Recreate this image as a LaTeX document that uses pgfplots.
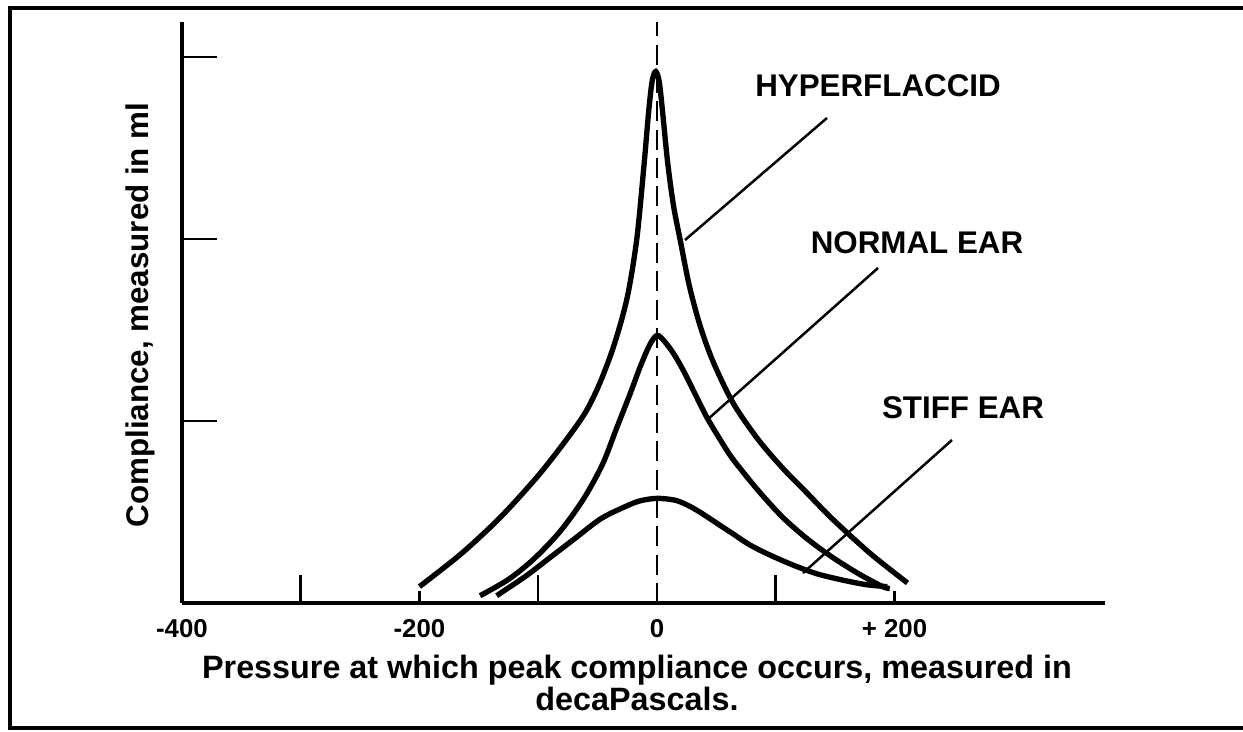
\documentclass[border=0pt]{standalone}
\usepackage{pgfplots}
\pgfplotsset{compat=1.18}
\usepackage{fontspec}
\setmainfont{Liberation Sans}
\begin{document}
\begin{tikzpicture}
\begin{scope}[x=0.6pt,y=0.6pt]
\path[use as bounding box] (0,0) rectangle (1243,731);
\draw[line width=2.4pt] (1243,723) -- (10,723) -- (10,3) -- (1243,3);
\end{scope}
\begin{axis}[
 at={(109.2pt,76.8pt)}, anchor=south west, scale only axis,
 width=553.8pt, height=348.6pt,
 xmin=-400, xmax=377.3, ymin=0, ymax=3.192,
 axis x line=bottom, axis y line=left,
 axis line style={-, line width=2.4pt},
 clip=false,
 tick align=inside,
 xtick={-400,-200,0,200}, xticklabels={-400,-200,0,+ 200},
 major tick length=7pt,
 extra x ticks={-300,-100,100}, extra x tick labels={},
 extra x tick style={major tick length=17pt},
 ytick=\empty,
 extra y ticks={1,2,3}, extra y tick labels={},
 extra y tick style={major tick length=21pt},
 every tick/.style={black, line width=1.5pt},
 xticklabel style={font=\bfseries\fontsize{15.5}{17}\selectfont, yshift=-6.5pt},
]
% Hyperflaccid
\addplot[line width=3.2pt, smooth, tension=0.5] coordinates {
(-200,0.09) (-165,0.27) (-132,0.47) (-100,0.70) (-76,0.90) (-60,1.05) (-48,1.21) (-36,1.42) (-25,1.68) (-17,2.0) (-11,2.4) (-7,2.7) (-4,2.87) (-1,2.92) (2,2.86) (5,2.68) (9,2.42) (14,2.18) (20,1.98) (27,1.75) (36,1.53) (47,1.33) (64,1.10) (85,0.90) (106,0.74) (127,0.60) (148,0.46) (180,0.27) (211,0.11)};
% Normal
\addplot[line width=3.2pt, smooth, tension=0.5] coordinates {
(-149,0.04) (-125,0.13) (-104,0.24) (-82,0.39) (-62,0.57) (-46,0.76) (-34,0.96) (-22,1.16) (-14,1.30) (-6,1.42) (0,1.47) (6,1.44) (14,1.37) (22,1.28) (32,1.15) (42,1.02) (53,0.90) (64,0.79) (85,0.62) (106,0.47) (127,0.35) (148,0.25) (170,0.16) (190,0.09) (196,0.08)};
% Stiff
\addplot[line width=3.2pt, smooth, tension=0.5] coordinates {
(-135,0.04) (-110,0.15) (-90,0.25) (-70,0.35) (-48,0.46) (-30,0.52) (-15,0.56) (0,0.575) (15,0.565) (25,0.54) (36,0.50) (50,0.44) (64,0.38) (78,0.32) (93,0.27) (114,0.21) (135,0.16) (157,0.125) (177,0.10) (194,0.09)};
\draw[line width=1.6pt, dash pattern=on 12pt off 5pt] (axis cs:0,0) -- (axis cs:0,3.192);
\end{axis}
\begin{scope}[x=0.6pt,y=0.6pt]
\draw[line width=1.5pt] (827,613) -- (685,491);
\draw[line width=1.5pt] (878,463) -- (707,311);
\draw[line width=1.5pt] (952,291) -- (803,158);
\node[font=\bfseries\fontsize{18.8}{20}\selectfont] at (878,645) {HYPERFLACCID};
\node[font=\bfseries\fontsize{18.8}{20}\selectfont] at (917,488) {NORMAL EAR};
\node[font=\bfseries\fontsize{18.8}{20}\selectfont] at (963,323) {STIFF EAR};
\node[rotate=90, font=\bfseries\fontsize{18.8}{20}\selectfont] at (140,416) {Compliance, measured in ml};
\node[align=center, font=\bfseries\fontsize{19.4}{19.5}\selectfont] at (637,48) {Pressure at which peak compliance occurs, measured in\\decaPascals.};
\end{scope}
\end{tikzpicture}
\end{document}
